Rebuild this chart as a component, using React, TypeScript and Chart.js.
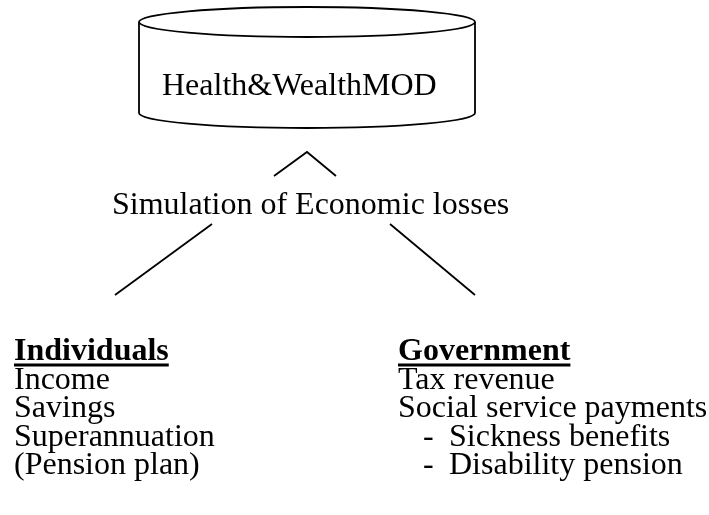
import React, { useEffect, useRef } from "react";
import { Chart, registerables } from "chart.js";

Chart.register(...registerables);

const W = 709;
const H = 515;

// Connector lines (x, y in page pixels)
const caretX = [274, 307, 336];
const caretY = [176, 152, 176];
const leftLineX = [212, 115];
const leftLineY = [224, 295];
const rightLineX = [390, 475];
const rightLineY = [224, 295];

// Cylinder (database) shape
const cylLeft = 139;
const cylRight = 475;
const cylTopY = 22;
const cylBottomY = 113;
const cylRy = 15;

// Texts
const titleText = "Health&WealthMOD";
const titlePos = [162, 95];
const simText = "Simulation of Economic losses";
const simPos = [112, 214];

const leftHeading = "Individuals";
const leftItems = ["Income", "Savings", "Superannuation", "(Pension plan)"];
const rightHeading = "Government";
const rightItems = ["Tax revenue", "Social service payments"];
const rightSubItems = ["Sickness benefits", "Disability pension"];
const leftColX = 14;
const rightColX = 398;
const dashX = 423;
const subX = 449;
const firstBaseline = 360;
const lineStep = 28.5;

const FONT = '"Liberation Serif", "Times New Roman", serif';

const diagramPlugin = {
  id: "diagram",
  afterDatasetsDraw(chart: any) {
    const ctx = chart.ctx;
    const xs = chart.scales.x;
    const ys = chart.scales.y;
    const px = (v: number) => xs.getPixelForValue(v);
    const py = (v: number) => ys.getPixelForValue(v);
    ctx.save();
    // cylinder
    ctx.strokeStyle = "#000";
    ctx.lineWidth = 1.8;
    const cx = (px(cylLeft) + px(cylRight)) / 2;
    const rx = (px(cylRight) - px(cylLeft)) / 2;
    const ry = Math.abs(py(cylTopY + cylRy) - py(cylTopY));
    ctx.beginPath();
    ctx.ellipse(cx, py(cylTopY), rx, ry, 0, 0, Math.PI * 2);
    ctx.stroke();
    ctx.beginPath();
    ctx.moveTo(px(cylLeft), py(cylTopY));
    ctx.lineTo(px(cylLeft), py(cylBottomY));
    ctx.ellipse(cx, py(cylBottomY), rx, ry, 0, Math.PI, 0, true);
    ctx.lineTo(px(cylRight), py(cylTopY));
    ctx.stroke();

    ctx.fillStyle = "#000";
    ctx.textBaseline = "alphabetic";
    ctx.textAlign = "left";
    ctx.font = `32px ${FONT}`;
    ctx.fillText(titleText, px(titlePos[0]), py(titlePos[1]));
    ctx.fillText(simText, px(simPos[0]), py(simPos[1]));

    const heading = (t: string, x: number, y: number) => {
      ctx.font = `bold 32px ${FONT}`;
      ctx.fillText(t, px(x), py(y));
      const w = ctx.measureText(t).width;
      ctx.fillRect(px(x), py(y) + 3.5, w, 3);
    };
    heading(leftHeading, leftColX, firstBaseline);
    heading(rightHeading, rightColX, firstBaseline);

    ctx.font = `32px ${FONT}`;
    leftItems.forEach((t, i) => {
      ctx.fillText(t, px(leftColX), py(firstBaseline + lineStep * (i + 1)));
    });
    rightItems.forEach((t, i) => {
      ctx.fillText(t, px(rightColX), py(firstBaseline + lineStep * (i + 1)));
    });
    rightSubItems.forEach((t, i) => {
      const y = firstBaseline + lineStep * (rightItems.length + i + 1);
      ctx.fillText("-", px(dashX), py(y));
      ctx.fillText(t, px(subX), py(y));
    });
    ctx.restore();
  },
};

const toPts = (xs: number[], ys: number[]) => xs.map((x, i) => ({ x, y: ys[i] }));

export default function App() {
  const ref = useRef<HTMLCanvasElement | null>(null);
  useEffect(() => {
    document.body.style.margin = "0";
    const canvas = ref.current!;
    const lineDs = (data: any[]) => ({
      data,
      showLine: true,
      borderColor: "#000",
      borderWidth: 1.8,
      pointRadius: 0,
      fill: false,
      tension: 0,
    });
    const chart = new Chart(canvas, {
      type: "scatter",
      data: {
        datasets: [
          lineDs(toPts(caretX, caretY)),
          lineDs(toPts(leftLineX, leftLineY)),
          lineDs(toPts(rightLineX, rightLineY)),
        ],
      },
      options: {
        animation: false,
        responsive: false,
        maintainAspectRatio: false,
        layout: { padding: 0 },
        plugins: { legend: { display: false }, tooltip: { enabled: false } },
        scales: {
          x: { type: "linear", min: 0, max: W, display: false },
          y: { type: "linear", min: 0, max: H, reverse: true, display: false },
        },
      },
      plugins: [diagramPlugin],
    });
    return () => chart.destroy();
  }, []);
  return (
    <div style={{ position: "fixed", left: 0, top: 0, width: W, height: H, background: "#fff" }}>
      <canvas ref={ref} width={W} height={H} style={{ width: W, height: H, display: "block" }} />
    </div>
  );
}
